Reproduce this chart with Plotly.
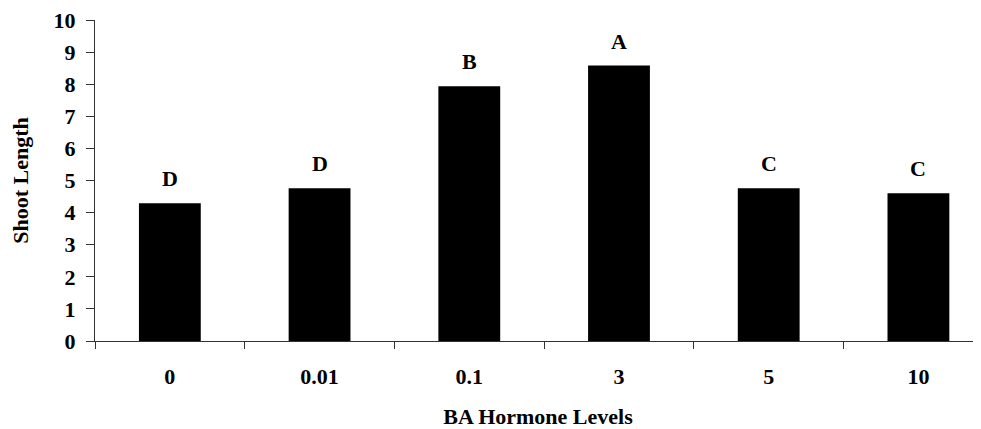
import plotly.graph_objects as go

categories = ["0", "0.01", "0.1", "3", "5", "10"]
shoot_length = [4.29, 4.76, 7.94, 8.58, 4.76, 4.60]
letters = ["D", "D", "B", "A", "C", "C"]

FONT = "Liberation Serif"
FS = 22

fig = go.Figure()
fig.add_trace(go.Bar(
    x=categories, y=shoot_length,
    marker=dict(color="black", line=dict(width=0)),
    textposition="none", hoverinfo="skip",
))

for i, (v, t) in enumerate(zip(shoot_length, letters)):
    fig.add_annotation(
        x=i, y=v, text="<b>%s</b>" % t, showarrow=False,
        yanchor="bottom", yshift=10,
        font=dict(family=FONT, size=FS, color="black"),
    )

fig.update_layout(
    width=973, height=421,
    margin=dict(l=87, r=0, t=9, b=88, pad=0),
    paper_bgcolor="white", plot_bgcolor="white",
    bargap=0.587, showlegend=False,
    font=dict(family=FONT, size=FS, color="black"),
)

fig.update_xaxes(
    type="category", range=[-0.5, 5.418],
    showline=True, linecolor="#333", linewidth=1,
    ticks="outside", tickson="boundaries", ticklen=7, tickcolor="#333",
    tickfont=dict(family=FONT, size=FS, color="black", weight="bold"),
    ticklabelstandoff=16, ticklabeloverflow="allow",
    showgrid=False, zeroline=False,
    title=dict(text="<b>BA Hormone Levels</b>", standoff=20,
               font=dict(family=FONT, size=FS, color="black")),
)

fig.update_yaxes(
    range=[0, 10], dtick=1,
    showline=True, linecolor="#333", linewidth=1,
    ticks="outside", ticklen=8, tickcolor="#333",
    tickfont=dict(family=FONT, size=FS, color="black", weight="bold"),
    ticklabelstandoff=6, ticklabeloverflow="allow",
    showgrid=False, zeroline=False,
    title=dict(text="<b>Shoot Length</b>", standoff=26,
               font=dict(family=FONT, size=FS, color="black")),
)

fig.write_html("out.html")
